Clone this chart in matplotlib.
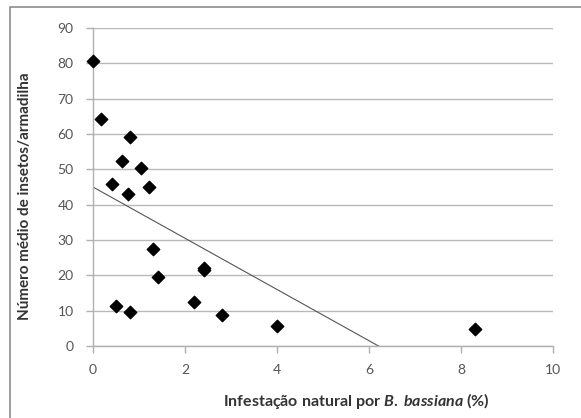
import matplotlib.pyplot as plt
from matplotlib.patches import Rectangle
import numpy as np

# infestation (%) and mean insects per trap
infestacao = [0.0, 0.18, 0.81, 0.62, 1.04, 0.42, 0.75, 1.21, 1.31, 1.41,
              0.50, 0.81, 2.42, 2.42, 2.20, 2.80, 3.99, 8.30]
insetos = [80.7, 64.3, 59.2, 52.3, 50.3, 45.8, 43.0, 45.0, 27.4, 19.6,
           11.3, 9.6, 21.5, 22.0, 12.5, 8.8, 5.8, 4.7]

x_ticks = [0, 2, 4, 6, 8, 10]
y_ticks = [0, 10, 20, 30, 40, 50, 60, 70, 80, 90]

plt.rcParams['font.family'] = ['Lato', 'DejaVu Sans']
plt.rcParams['mathtext.fontset'] = 'custom'
plt.rcParams['mathtext.it'] = 'Lato:italic:bold'
plt.rcParams['mathtext.rm'] = 'Lato:bold'

fig = plt.figure(figsize=(5.81, 4.18), dpi=100)
ax = fig.add_axes([93 / 581, 1 - 346 / 418, 460 / 581, 318 / 418])

# chart frame (only top and left edges fall inside the image)
fig.patches.append(Rectangle((10 / 581, -0.1), 1.2, 1 - 7 / 418 + 0.1,
                             transform=fig.transFigure, fill=False,
                             edgecolor='#8c8c8c', linewidth=1.2))

ax.set_xlim(0, 10)
ax.set_ylim(0, 90)
ax.set_xticks(x_ticks)
ax.set_yticks(y_ticks)
ax.grid(axis='y', color='#b8b8b8', linewidth=1.0)
ax.set_axisbelow(True)

for s in ['top', 'right']:
    ax.spines[s].set_visible(False)
for s in ['left', 'bottom']:
    ax.spines[s].set_color('#b0b0b0')
    ax.spines[s].set_linewidth(1.0)
ax.tick_params(colors='#b0b0b0', labelcolor='#555555', labelsize=10,
               length=5, width=1.0, direction='out')
ax.tick_params(axis='x', pad=8)
ax.tick_params(axis='y', pad=9)

# linear trend line
a, b = np.polyfit(infestacao, insetos, 1)
xs = np.array([0, 10])
ax.plot(xs, a * xs + b, color='#555555', linewidth=0.8)

ax.scatter(infestacao, insetos, marker='D', s=40, color='black', zorder=3,
           clip_on=False)

ax.set_xlabel('Infestação natural por $\\mathit{B.}$ $\\mathit{bassiana}$ (%)',
              fontsize=11.5, fontweight='bold', color='#333333')
ax.set_ylabel('Número médio de insetos/armadilha', fontsize=11,
              fontweight='bold', color='#333333')
ax.xaxis.set_label_coords(0.572, -0.14)
ax.yaxis.set_label_coords(-0.133, 0.47)

plt.savefig('out.png', dpi=100)
